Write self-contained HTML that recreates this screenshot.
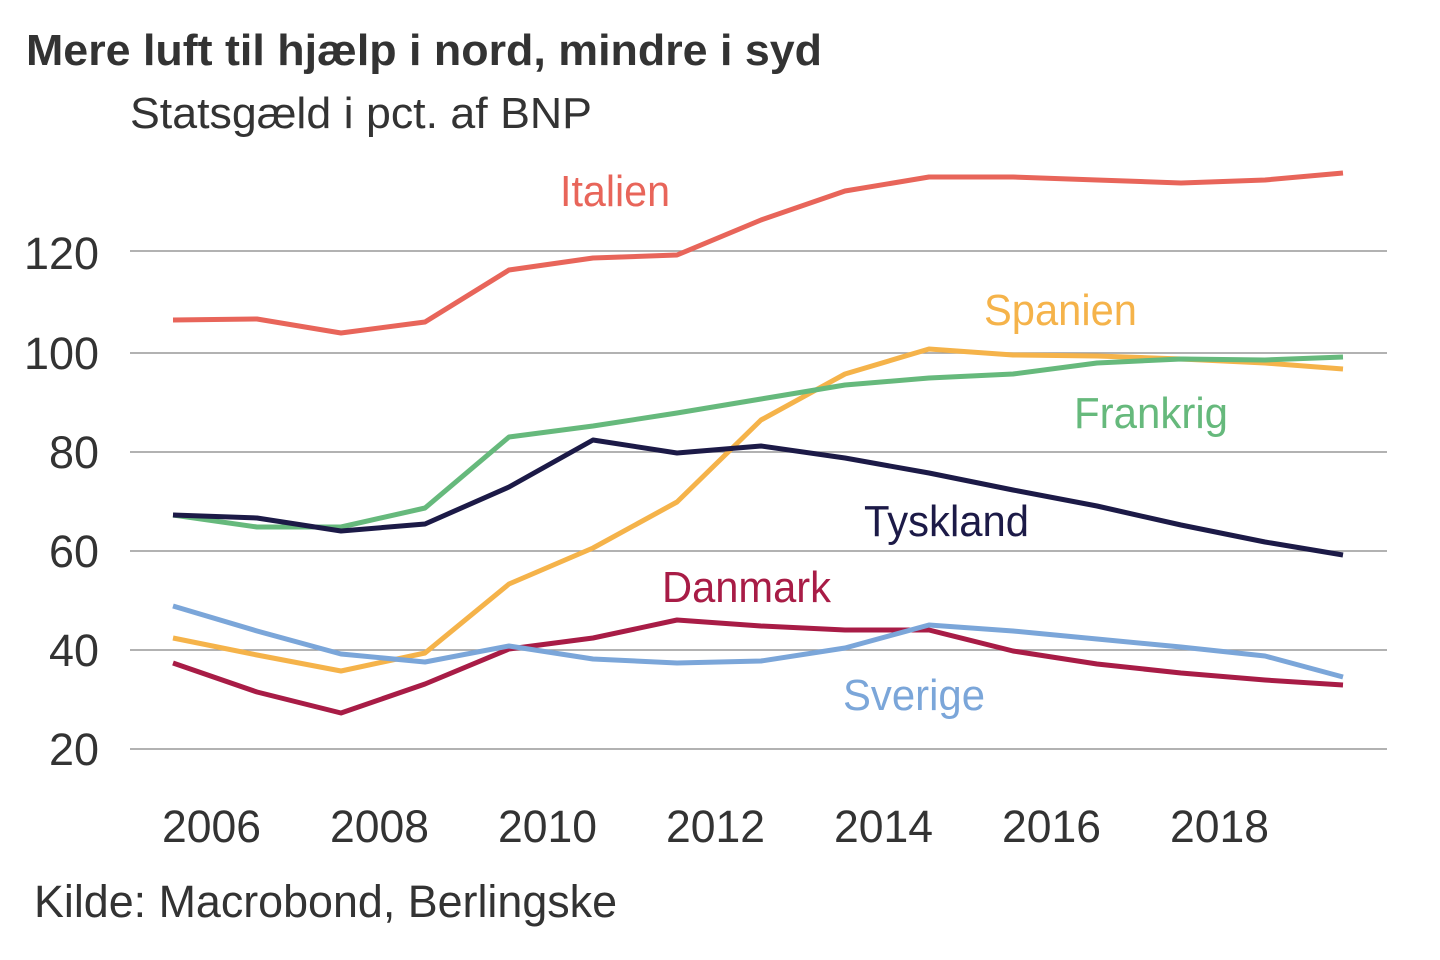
<!DOCTYPE html>
<html><head><meta charset="utf-8"><style>body{margin:0;background:#fff}svg{display:block}text{font-family:"Liberation Sans",sans-serif}</style></head><body>
<svg width="1440" height="960" viewBox="0 0 1440 960" xmlns="http://www.w3.org/2000/svg">
<text x="26" y="65" font-size="44" font-weight="bold" fill="#333" textLength="796" lengthAdjust="spacingAndGlyphs">Mere luft til hjælp i nord, mindre i syd</text>
<text x="130" y="128" font-size="44" fill="#333" textLength="462" lengthAdjust="spacingAndGlyphs">Statsgæld i pct. af BNP</text>
<g stroke="#999" stroke-width="1.5">
<line x1="130" x2="1387" y1="251" y2="251"/><line x1="130" x2="1387" y1="353" y2="353"/><line x1="130" x2="1387" y1="452" y2="452"/><line x1="130" x2="1387" y1="551" y2="551"/><line x1="130" x2="1387" y1="650" y2="650"/><line x1="130" x2="1387" y1="749" y2="749"/>
</g>
<g font-size="45" fill="#333">
<text x="24" y="269" textLength="75" lengthAdjust="spacingAndGlyphs">120</text><text x="24" y="369" textLength="75" lengthAdjust="spacingAndGlyphs">100</text><text x="49" y="468" textLength="50" lengthAdjust="spacingAndGlyphs">80</text><text x="49" y="567" textLength="50" lengthAdjust="spacingAndGlyphs">60</text><text x="49" y="666" textLength="50" lengthAdjust="spacingAndGlyphs">40</text><text x="49" y="765" textLength="50" lengthAdjust="spacingAndGlyphs">20</text>
</g>
<g font-size="45" fill="#333">
<text x="162" y="842" textLength="99" lengthAdjust="spacingAndGlyphs">2006</text><text x="330" y="842" textLength="99" lengthAdjust="spacingAndGlyphs">2008</text><text x="498" y="842" textLength="99" lengthAdjust="spacingAndGlyphs">2010</text><text x="666" y="842" textLength="99" lengthAdjust="spacingAndGlyphs">2012</text><text x="834" y="842" textLength="99" lengthAdjust="spacingAndGlyphs">2014</text><text x="1002" y="842" textLength="99" lengthAdjust="spacingAndGlyphs">2016</text><text x="1170" y="842" textLength="99" lengthAdjust="spacingAndGlyphs">2018</text>
</g>
<text x="34" y="917" font-size="45" fill="#333" textLength="583" lengthAdjust="spacingAndGlyphs">Kilde: Macrobond, Berlingske</text>
<g fill="none" stroke-width="5" stroke-linejoin="round">
<polyline stroke="#e8655a" points="173,320 257,319 341,333 425,322 509,270 593,258 677,255 761,220 845,191 929,177 1013,177 1097,180 1181,183 1265,180 1343,173"/>
<polyline stroke="#f5b34a" points="173,638 257,655 341,671 425,653 509,584 593,548 677,502 761,420 845,374 929,349 1013,355 1097,356 1181,359 1265,363 1343,369"/>
<polyline stroke="#66b97c" points="173,515 257,527 341,527 425,508 509,437 593,426 677,413 761,399 845,385 929,378 1013,374 1097,363 1181,359 1265,360 1343,357"/>
<polyline stroke="#1c1a47" points="173,515 257,518 341,531 425,524 509,487 593,440 677,453 761,446 845,458 929,473 1013,490 1097,506 1181,525 1265,542 1343,555"/>
<polyline stroke="#a81c46" points="173,663 257,692 341,713 425,684 509,649 593,638 677,620 761,626 845,630 929,630 1013,651 1097,664 1181,673 1265,680 1343,685"/>
<polyline stroke="#7ba6d9" points="173,606 257,631 341,654 425,662 509,646 593,659 677,663 761,661 845,648 929,625 1013,631 1097,639 1181,647 1265,656 1343,677"/>
</g>
<g font-size="44">
<text x="560" y="206" fill="#e8655a" textLength="110" lengthAdjust="spacingAndGlyphs">Italien</text>
<text x="984" y="325" fill="#f5b34a" textLength="153" lengthAdjust="spacingAndGlyphs">Spanien</text>
<text x="1074" y="428" fill="#66b97c" textLength="154" lengthAdjust="spacingAndGlyphs">Frankrig</text>
<text x="864" y="536" fill="#1c1a47" textLength="165" lengthAdjust="spacingAndGlyphs">Tyskland</text>
<text x="662" y="602" fill="#a81c46" textLength="169" lengthAdjust="spacingAndGlyphs">Danmark</text>
<text x="843" y="710" fill="#7ba6d9" textLength="142" lengthAdjust="spacingAndGlyphs">Sverige</text>
</g>
</svg>
</body></html>
